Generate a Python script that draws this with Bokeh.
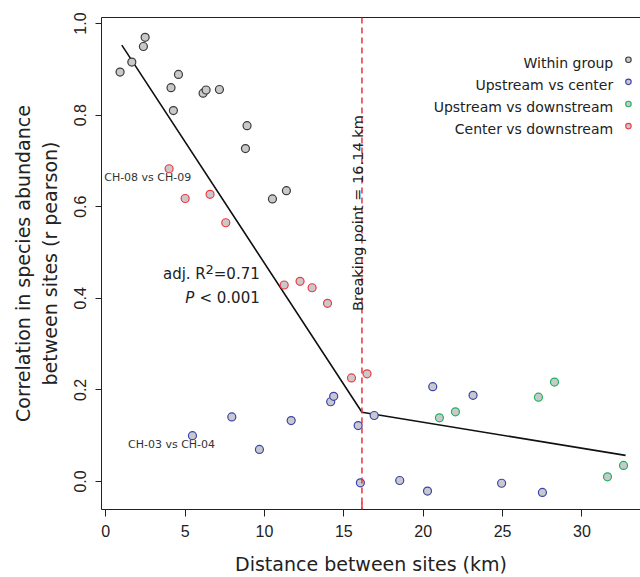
import math
from bokeh.plotting import figure
from bokeh.models import Range1d, FixedTicker, LinearAxis, Label, Span, ColumnDataSource, PrintfTickFormatter
from bokeh.core.properties import value
from bokeh.embed import file_html
from bokeh.resources import INLINE

# ---------------- data ----------------
within_x = [0.90, 1.64, 2.37, 2.48, 4.11, 4.58, 4.26, 6.13, 6.32, 7.16, 8.90, 8.80, 10.50, 11.38]
within_y = [0.894, 0.916, 0.950, 0.970, 0.860, 0.889, 0.810, 0.848, 0.855, 0.856, 0.777, 0.727, 0.617, 0.635]

up_center_x = [5.46, 7.94, 9.68, 11.68, 14.17, 14.36, 15.90, 16.91, 16.04, 18.52, 20.60, 23.14, 20.27, 24.94, 27.51]
up_center_y = [0.100, 0.141, 0.070, 0.133, 0.174, 0.186, 0.122, 0.144, -0.003, 0.002, 0.207, 0.188, -0.021, -0.004, -0.024]

up_down_x = [21.02, 22.03, 27.26, 28.27, 31.61, 32.62]
up_down_y = [0.139, 0.152, 0.184, 0.217, 0.010, 0.035]

center_down_x = [3.99, 5.00, 6.57, 7.56, 11.24, 12.24, 13.00, 13.97, 15.48, 16.46]
center_down_y = [0.683, 0.618, 0.627, 0.565, 0.429, 0.437, 0.423, 0.389, 0.226, 0.235]

fit_x = [1.01, 16.14, 32.75]
fit_y = [0.953, 0.151, 0.057]
breakpoint_km = 16.14

legend_labels = ["Within group", "Upstream vs center", "Upstream vs downstream", "Center vs downstream"]
legend_colors = ["#3a3a3a", "#3c44a8", "#1fb35c", "#f03a3f"]

x_ticks = [0, 5, 10, 15, 20, 25, 30]
y_ticks = [0.0, 0.2, 0.4, 0.6, 0.8, 1.0]

FILL = "#c9c9cd"
TXT = "#222222"
FONT = "DejaVu Sans"
TICKFONT = "Liberation Sans"

# ---------------- figure ----------------
y_lo, y_hi = -0.0613, 1.0133
p = figure(width=640, height=577, output_backend="svg", toolbar_location=None,
           x_range=Range1d(-0.27, 33.69), y_range=Range1d(y_lo, y_hi),
           min_border_left=101, min_border_right=0, min_border_top=17, min_border_bottom=68,
           x_axis_label="Distance between sites (km)",
           y_axis_label="Correlation in species abundance\nbetween sites (r pearson)")
p.outline_line_color = None
p.grid.visible = False
p.background_fill_color = "white"
p.border_fill_color = "white"

for ax in (p.xaxis[0], p.yaxis[0]):
    ax.axis_line_color = "#222222"
    ax.major_tick_line_color = "#222222"
    ax.minor_tick_line_color = None
    ax.major_tick_in = 0
    ax.major_label_text_font = TICKFONT
    ax.major_label_text_font_size = "16px"
    ax.major_label_text_color = TXT
    ax.axis_label_text_font = FONT
    ax.axis_label_text_font_size = "19px"
    ax.axis_label_text_font_style = "normal"
    ax.axis_label_text_color = TXT

p.xaxis.ticker = FixedTicker(ticks=x_ticks)
p.xaxis.major_tick_out = 7
p.xaxis.major_label_standoff = 8
p.xaxis.axis_label_standoff = 13

p.yaxis.ticker = FixedTicker(ticks=y_ticks)
p.yaxis.formatter = PrintfTickFormatter(format="%.1f")
p.yaxis.major_label_orientation = "vertical"
p.yaxis.major_tick_out = 6
p.yaxis.major_label_standoff = 9
p.yaxis.axis_label_standoff = 11

top = LinearAxis(ticker=FixedTicker(ticks=[]), major_tick_out=0, major_tick_in=0,
                 minor_tick_out=0, minor_tick_in=0, major_label_standoff=0,
                 axis_line_color="#222222", major_label_text_font_size="0px")
p.add_layout(top, "above")

# ---------------- marks ----------------
p.add_layout(Span(location=breakpoint_km, dimension="height", line_color="#e8343c",
                  line_width=1.5, line_dash="6 4"))
p.scatter(x=[breakpoint_km], y=[y_lo], marker="dash", angle=math.pi / 2, size=14,
          line_color="#e8343c", line_width=1.5)

p.line(fit_x, fit_y, line_color="#111111", line_width=1.6)

groups = [(within_x, within_y), (up_center_x, up_center_y),
          (up_down_x, up_down_y), (center_down_x, center_down_y)]
for (gx, gy), col in zip(groups, legend_colors):
    p.scatter(gx, gy, size=8, fill_color=FILL, line_color=col, line_width=1.2)

# legend (text right-aligned, symbol on the right)
leg_text_x = 31.97
leg_sym_x = 32.93
leg_y0 = 0.915
leg_dy = 0.0483
leg_src = ColumnDataSource(dict(
    tx=[leg_text_x] * 4,
    sx=[leg_sym_x] * 4,
    ty=[leg_y0 - i * leg_dy for i in range(4)],
    sy=[leg_y0 - i * leg_dy + 0.006 for i in range(4)],
    label=legend_labels, color=legend_colors))
p.text(x="tx", y="ty", text="label", source=leg_src, text_align="right",
       text_baseline="alphabetic", text_font=value(FONT), text_font_size="14px",
       text_color=TXT)
p.scatter(x="sx", y="sy", source=leg_src, size=5.5, fill_color=FILL,
          line_color="color", line_width=1.1)

# annotations
p.add_layout(Label(x=breakpoint_km, y=0.586, x_offset=-4, angle=math.pi / 2,
                   text="Breaking point = 16.14 km", text_align="center",
                   text_baseline="alphabetic", text_font=FONT, text_font_size="14.5px",
                   text_color=TXT))
p.add_layout(Label(x=-0.10, y=0.663, text="CH-08 vs CH-09", text_align="left",
                   text_baseline="middle", text_font=FONT, text_font_size="11px",
                   text_color="#333333"))
p.add_layout(Label(x=1.40, y=0.080, text="CH-03 vs CH-04", text_align="left",
                   text_baseline="middle", text_font=FONT, text_font_size="11px",
                   text_color="#333333"))

p.add_layout(Label(x=9.70, y=0.4534, text="=0.71", text_align="right",
                   text_baseline="alphabetic", text_font=FONT, text_font_size="15px",
                   text_color=TXT))
p.add_layout(Label(x=6.81, y=0.463, text="2", text_align="right",
                   text_baseline="alphabetic", text_font=FONT, text_font_size="13px",
                   text_color=TXT))
p.add_layout(Label(x=6.30, y=0.4534, text="adj. R", text_align="right",
                   text_baseline="alphabetic", text_font=FONT, text_font_size="15px",
                   text_color=TXT))
p.add_layout(Label(x=9.70, y=0.400, text="< 0.001", text_align="right",
                   text_baseline="alphabetic", text_font=FONT, text_font_size="15px",
                   text_color=TXT))
p.add_layout(Label(x=5.58, y=0.400, text="P", text_align="right",
                   text_baseline="alphabetic", text_font=FONT, text_font_size="15px",
                   text_font_style="italic", text_color=TXT))

open("out.html", "w").write(file_html(p, INLINE))
